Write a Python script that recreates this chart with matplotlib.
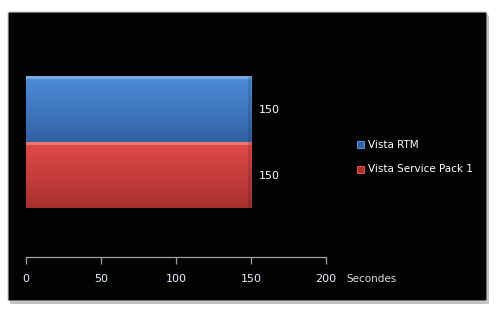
import numpy as np
import matplotlib
matplotlib.use("Agg")
import matplotlib.pyplot as plt
from matplotlib.patches import FancyBboxPatch, Rectangle
from matplotlib.colors import LinearSegmentedColormap

# data
series = ["Vista RTM", "Vista Service Pack 1"]
values = [150, 150]
ticks = [0, 50, 100, 150, 200]
unit_label = "Secondes"

colors_top = ["#4f8fdc", "#e24c4a"]
colors_bot = ["#3161a3", "#a8302e"]

W, H = 498, 314
fig = plt.figure(figsize=(W / 100, H / 100), dpi=100)
fig.patch.set_facecolor("white")

# black panel with shadow
shadow = FancyBboxPatch((10 / W, 1 - 304 / H), 479 / W, 289 / H,
                        boxstyle="round,pad=0,rounding_size=0.004",
                        transform=fig.transFigure, facecolor="#9a9a9a",
                        edgecolor="none", alpha=0.6, zorder=0)
fig.patches.append(shadow)
panel = FancyBboxPatch((8 / W, 1 - 301 / H), 479 / W, 289 / H,
                       boxstyle="round,pad=0,rounding_size=0.004",
                       transform=fig.transFigure, facecolor="#030303",
                       edgecolor="#c8c8c8", linewidth=0.8, zorder=1)
fig.patches.append(panel)

ax = fig.add_axes([26 / W, 1 - 257 / H, 300 / W, 181 / H])
ax.set_facecolor("none")
ax.set_zorder(2)

ypos = [1, 0]  # Vista RTM on top
bars = ax.barh(ypos, values, height=1.0, color=colors_bot, edgecolor="none")

# gradient fill on each bar
for bar, c_top, c_bot in zip(bars, colors_top, colors_bot):
    x0, y0 = bar.get_x(), bar.get_y()
    w, h = bar.get_width(), bar.get_height()
    cmap = LinearSegmentedColormap.from_list("g", [c_bot, c_top])
    grad = np.linspace(0, 1, 100).reshape(-1, 1)
    im = ax.imshow(grad, cmap=cmap, aspect="auto", origin="lower",
                   extent=(x0, x0 + w, y0, y0 + h), zorder=3)
    im.set_clip_path(bar)
    # light bevel along top edge
    ax.add_patch(Rectangle((x0, y0 + h * 0.96), w, h * 0.04,
                           facecolor="white", alpha=0.25, edgecolor="none", zorder=4))
    ax.add_patch(Rectangle((x0 + w * 0.985, y0), w * 0.015, h,
                           facecolor="black", alpha=0.12, edgecolor="none", zorder=4))
    ax.text(x0 + w + 5, y0 + h / 2 - 0.02, str(int(w)), color="white",
            fontsize=8, va="center", ha="left", zorder=5)

ax.set_xlim(0, 200)
ax.set_ylim(-1.24, 1.5)
ax.set_xticks(ticks)
ax.set_xticklabels([str(t) for t in ticks])
ax.set_yticks([])
for s in ["top", "right", "left"]:
    ax.spines[s].set_visible(False)
ax.spines["bottom"].set_color("#a0a0a0")
ax.spines["bottom"].set_linewidth(0.9)
ax.tick_params(axis="x", colors="#a0a0a0", length=5, width=0.9,
               labelcolor="#e8eeff", labelsize=8, pad=7)

fig.text(346 / W, 1 - 279 / H, unit_label, color="#dddddd", fontsize=7.5,
         va="center", ha="left")

# legend
leg_y = [145, 169]
for name, c_top, c_bot, y in zip(series, colors_top, colors_bot, leg_y):
    fig.patches.append(Rectangle((357 / W, 1 - (y + 3.5) / H), 7 / W, 7 / H,
                                 transform=fig.transFigure, facecolor=c_bot,
                                 edgecolor=c_top, linewidth=0.8, zorder=3))
    fig.text(368 / W, 1 - y / H, name, color="white", fontsize=7.5,
             va="center", ha="left", zorder=3)

fig.savefig("out.png", dpi=100, facecolor=fig.get_facecolor())
